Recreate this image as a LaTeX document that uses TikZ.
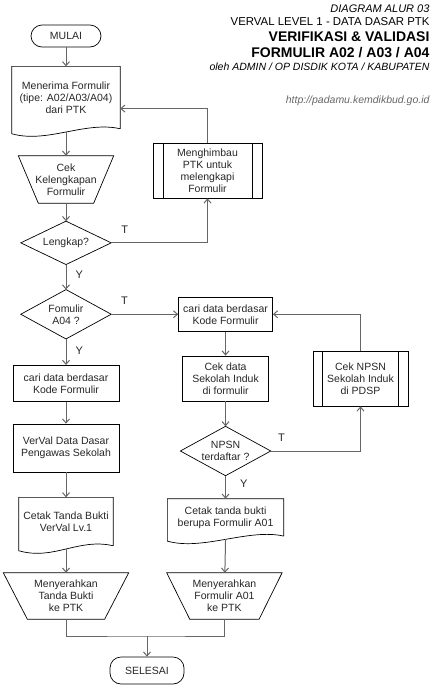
\documentclass[tikz,border=0pt]{standalone}
\usepackage{fontspec}
\setmainfont{Liberation Sans}
\usetikzlibrary{arrows.meta, positioning, calc}

\begin{document}
\begin{tikzpicture}[
        x=1pt, y=1pt,
        font=\fontsize{10.5}{12}\selectfont,
        node distance=20pt,
        base/.style={rectangle, align=center, inner sep=2pt, text=black!85},
        box/.style={base, draw=black, line width=0.7pt},
        term/.style={box, rounded corners=11pt, minimum width=70pt, minimum height=22pt},
        process/.style={box, minimum width=106pt, minimum height=36pt},
        subproc/.style={box, minimum width=109pt, minimum height=55pt,
            append after command={\pgfextra{
                \draw[line width=0.7pt] ([xshift=#1]\tikzlastnode.north west) -- ([xshift=#1]\tikzlastnode.south west);
                \draw[line width=0.7pt] ([xshift=-#1]\tikzlastnode.north east) -- ([xshift=-#1]\tikzlastnode.south east);}}},
        doc/.style={base, minimum width=108pt, minimum height=62pt,
            append after command={\pgfextra{
                \draw[line width=0.7pt] (\tikzlastnode.south east) -- (\tikzlastnode.north east) -- (\tikzlastnode.north west)
                    -- ([yshift=-5pt]\tikzlastnode.south west) .. controls +(35pt,-10pt) and +(-35pt,8pt) .. (\tikzlastnode.south east);}}},
        decision/.style={base, inner sep=0pt, minimum width=90pt, minimum height=46pt,
            append after command={\pgfextra{
                \draw[line width=0.7pt] (\tikzlastnode.north) -- (\tikzlastnode.east) -- (\tikzlastnode.south) -- (\tikzlastnode.west) -- cycle;}}},
        manual/.style={base, minimum width=125pt, minimum height=46pt,
            append after command={\pgfextra{
                \draw[line width=0.7pt] (\tikzlastnode.north west) -- (\tikzlastnode.north east)
                    -- ([xshift=-#1]\tikzlastnode.south east) -- ([xshift=#1]\tikzlastnode.south west) -- cycle;}}},
        line/.style={draw=black!60, line width=1pt},
        arrow/.style={line, -{Straight Barb[length=4pt, width=7pt]}},
        lbl/.style={font=\fontsize{11}{12}\selectfont, text=black!85, inner sep=1pt}
    ]
        \useasboundingbox (0,0) rectangle (440,-686);

        % title
        \node[anchor=base east, font=\fontsize{11}{13}\selectfont\itshape] (title1) at (433,-12) {DIAGRAM ALUR 03};
        \node[anchor=base east, font=\fontsize{11.4}{13}\selectfont] (title2) at (433,-25) {VERVAL LEVEL 1 - DATA DASAR PTK};
        \node[anchor=base east, font=\fontsize{14}{16}\selectfont\bfseries] (title3) at (433,-41) {VERIFIKASI \& VALIDASI};
        \node[anchor=base east, font=\fontsize{14}{16}\selectfont\bfseries] (title4) at (433,-57) {FORMULIR A02 / A03 / A04};
        \node[anchor=base east, font=\fontsize{10.5}{12}\selectfont\itshape] (title5) at (433,-70) {oleh ADMIN / OP DISDIK KOTA / KABUPATEN};
        \node[anchor=base east, font=\fontsize{10.5}{12}\selectfont\itshape, text=black!60] (url) at (433,-103) {http://padamu.kemdikbud.go.id};

        % left column
        \node[term] (start) at (66,-36) {MULAI};
        \node[doc, below=19pt of start] (recv) {Menerima Formulir\\(tipe: A02/A03/A04)\\dari PTK};
        \node[manual=20pt, minimum width=95pt, minimum height=47pt, below=27pt of recv] (check) {Cek\\Kelengkapan\\Formulir};
        \node[decision, minimum height=43pt, below=18pt of check] (complete) {Lengkap?};
        \node[decision, minimum height=49pt, below=25pt of complete] (isA04) {Fomulir\\A04 ?};
        \node[process, below=26pt of isA04] (findL) {cari data berdasar\\Kode Formulir};
        \node[process, minimum height=48pt, below=22pt of findL] (vervalL) {VerVal Data Dasar\\Pengawas Sekolah};
        \node[doc, minimum width=94pt, minimum height=48pt, below=25pt of vervalL] (printL) {Cetak Tanda Bukti\\VerVal Lv.1};
        \node[manual=24pt, below=27pt of printL] (handL) {Menyerahkan\\Tanda Bukti\\ke PTK};

        % right column
        \node[process, minimum width=94pt, minimum height=34pt, right=67pt of isA04] (findR) {cari data berdasar\\Kode Formulir};
        \node[process, minimum width=86pt, minimum height=45pt, below=24pt of findR] (checkR) {Cek data\\Sekolah Induk\\di formulir};
        \node[decision, minimum height=49pt, below=25pt of checkR] (npsn) {NPSN\\terdaftar ?};
        \node[doc, minimum width=116pt, minimum height=37pt, below=23pt of npsn] (printR) {Cetak tanda bukti\\berupa Formulir A01};
        \node[manual=23pt, minimum width=115pt, right=38pt of handL] (handR) {Menyerahkan\\Formulir A01\\ke PTK};

        % side steps
        \node[subproc=10.5pt] (urge) at (207.5,-170.5) {Menghimbau\\PTK untuk\\melengkapi\\Formulir};
        \node[subproc=10pt, minimum width=95pt] (npsnCheck) at (360.5,-378.5) {Cek NPSN\\Sekolah Induk\\di PDSP};

        \node[term, minimum width=74pt, minimum height=27pt] (finish) at (147,-670.5) {SELESAI};
        \coordinate (join) at (147,-636);

        \draw[arrow] (start) -- (recv);
        \draw[arrow] ([yshift=-3pt]recv.south) -- (check);
        \draw[arrow] (check) -- (complete);
        \draw[arrow] (complete) -- node[lbl, right=8pt, pos=0.4] (yComplete) {Y} (isA04);
        \draw[arrow] (complete.east) -| node[lbl, above=8pt, pos=0.07] (tComplete) {T} (urge.south);
        \draw[arrow] (urge.north) |- ([yshift=-11pt]recv.east);
        \draw[arrow] (isA04) -- node[lbl, right=8pt, pos=0.45] (yA04) {Y} (findL);
        \draw[arrow] (isA04) -- node[lbl, above=8pt, pos=0.2] (tA04) {T} (findR);
        \draw[arrow] (findL) -- (vervalL);
        \draw[arrow] (vervalL) -- (printL);
        \draw[arrow] ([yshift=-3pt]printL.south) -- (handL);
        \draw[arrow] (findR) -- (checkR);
        \draw[arrow] (checkR) -- (npsn);
        \draw[arrow] (npsn) -- node[lbl, right=13pt, pos=0.35] (yNpsn) {Y} (printR);
        \draw[arrow] (npsn.east) -| node[lbl, above=8pt, pos=0.06] (tNpsn) {T} (npsnCheck.south);
        \draw[arrow] (npsnCheck.north) |- (findR.east);
        \draw[arrow] ([yshift=-3pt]printR.south) -- (handR);
        \draw[line] (handL.south) |- (join) -| (handR.south);
        \draw[arrow] (join) -- (finish);
    \end{tikzpicture}
\end{document}
